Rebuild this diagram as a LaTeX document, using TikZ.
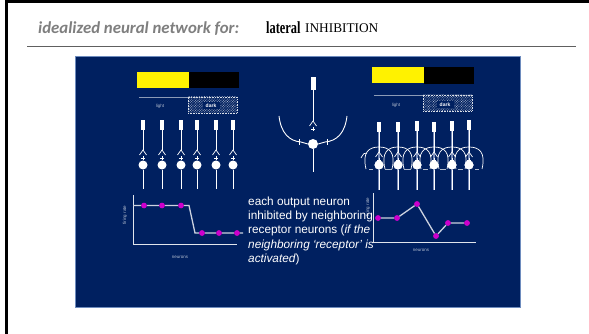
\documentclass[tikz,border=0pt]{standalone}
\usepackage{graphicx}
\usepackage{fontspec}
\setmainfont{Liberation Sans}
\newfontfamily\titlefont{Carlito}
\newfontfamily\serifhead{Liberation Serif}
\usetikzlibrary{patterns.meta}
\definecolor{slideblue}{RGB}{0,32,96}
\definecolor{slideedge}{RGB}{110,140,190}
\definecolor{titlegray}{RGB}{127,127,127}
\definecolor{rulegray}{RGB}{96,96,96}
\definecolor{plotdot}{RGB}{204,0,204}
\definecolor{stripe}{RGB}{120,140,185}

\tikzset{
  wire/.style={draw=white, line width=0.9pt},
  faintwire/.style={draw=stripe, line width=2pt},
  receptor/.style={rectangle, fill=white, minimum width=4.5pt, minimum height=10pt, inner sep=0pt},
  soma/.style={circle, fill=white, minimum size=9pt, inner sep=0pt},
  pdot/.style={circle, fill=plotdot, minimum size=5.5pt, inner sep=0pt},
  axisline/.style={draw=white!88!slideblue, line width=1pt},
  trace/.style={draw=white!80!slideblue, line width=1.3pt},
  tinylabel/.style={font=\fontsize{4.5}{5}\selectfont, text=white!70!slideblue, inner sep=0pt},
  hatchbox/.style={draw=white!85!slideblue, densely dotted, line width=0.6pt,
    pattern={Lines[angle=45,distance=1.8pt,line width=0.6pt]}, pattern color=white!80!slideblue,
    minimum width=49pt, minimum height=16pt, inner sep=0pt},
  darktag/.style={fill=slideblue, text=white, font=\bfseries\fontsize{5}{5}\selectfont, inner sep=0.5pt,
    minimum width=17pt, minimum height=7pt},
  lightbar/.style={draw=white!55!slideblue, line width=1.4pt},
  chev/.pic={
    \draw[white, line width=0.7pt] (-3.5,5) -- (0,0) -- (3.5,5);
    \draw[white, line width=0.6pt] (-1.8,8) -- (1.8,8) (0,6.3) -- (0,9.7);
  },
  bulb/.pic={
    \draw[white, line width=0.7pt] (-13,19) .. controls (-17,2) and (-10,-3) .. (0,-3)
      .. controls (10,-3) and (17,2) .. (13,19);
    \draw[white!70!slideblue, line width=0.6pt] (-10,19) -- (-6,19) (6,19) -- (10,19);
  }
}

\begin{document}
\begin{tikzpicture}[x=1pt,y=-1pt]
\useasboundingbox (0,0) rectangle (589,334);
\fill[white] (0,0) rectangle (589,334);

% page frame and heading
\draw[black, line width=3pt] (6.5,334) -- (6.5,1.5) -- (589,1.5);
\node[anchor=base west, inner sep=0, text=titlegray,
  font=\titlefont\bfseries\itshape\fontsize{16.8}{18}\selectfont] (title) at (38,33.5) {idealized neural network for:};
\node[anchor=base west, inner sep=0] (lat) at (266,33.5)
  {\serifhead\bfseries\fontsize{15.5}{15}\selectfont\scalebox{0.8}[1.1]{lateral}};
\node[anchor=base west, inner sep=0] (inh) at (305,33)
  {\serifhead\fontsize{13.3}{13}\selectfont INHIBITION};
\draw[rulegray, line width=1.3pt] (27,46.5) -- (576,46.5);

% slide panel
\draw[fill=slideblue, draw=slideedge, line width=0.8pt] (75,56.5) rectangle (520,307);

% ---------- left network: no lateral connections ----------
\fill[yellow] (137,72) rectangle (188.5,88);
\fill[black] (189,72) rectangle (239,88);
\draw[lightbar] (139,97.5) -- (188,97.5);
\node[hatchbox] (lhatch) at (212.5,105) {};
\node[darktag] (ldark) at (211,106) {dark};
\node[tinylabel] (llight) at (160,106) {light};

\foreach \i/\x in {1/143,2/162,3/181,4/197,5/216,6/233} {
  \node[receptor] (lr\i) at (\x,125) {};
  \coordinate (lt\i) at (\x,150);
  \node[soma] (ls\i) at (\x,165) {};
  \coordinate (lo\i) at (\x,189);
  \draw[wire] (lr\i.south) -- (lt\i);
  \pic at (lt\i) {chev};
  \draw[wire] (ls\i.south) -- (lo\i);
}

% left response plot
\coordinate (lyTop) at (133,195);
\coordinate (lOrig) at (133,244);
\coordinate (lxEnd) at (237,244);
\draw[axisline] (lyTop) -- (lOrig) -- (lxEnd);
\node[pdot] (ld1) at (144,205.5) {};
\node[pdot] (ld2) at (162,205.5) {};
\node[pdot] (ld3) at (181,205.5) {};
\node[pdot] (ld4) at (202,233) {};
\node[pdot] (ld5) at (219,233) {};
\node[pdot] (ld6) at (237,233) {};
\coordinate (lstart) at (133,205.5);
\coordinate (lknee1) at (189,205.5);
\coordinate (lknee2) at (195,233);
\coordinate (lend) at (243,233);
\draw[trace] (lstart) -- (ld1) -- (ld2) -- (ld3) -- (lknee1) -- (lknee2) -- (ld4) -- (ld5) -- (ld6) -- (lend);
\foreach \i in {1,...,6} { \node[pdot] at (ld\i) {}; }
\node[tinylabel, rotate=90] (lylab) at (125,215) {firing rate};
\node[tinylabel] (lxlab) at (180,257) {neurons};

% ---------- single neuron with two inhibitory inputs ----------
\node[receptor, minimum height=13pt, minimum width=5pt] (cr) at (313,83.5) {};
\coordinate (ct) at (313,121);
\node[soma, minimum size=10pt] (cs) at (313,144) {};
\coordinate (co) at (313,172);
\draw[wire] (cr.south) -- (ct);
\pic at (ct) {chev};
\draw[wire] (cs.south) -- (co);
\coordinate (cinL) at (279,116);
\coordinate (cinR) at (347,116);
\draw[wire] (cinL) .. controls (281,133) and (289,141) .. (301,142) -- (cs.west);
\draw[wire] (cinR) .. controls (345,133) and (337,141) .. (325,142) -- (cs.east);
\draw[white, line width=0.7pt] (299,139) -- (299,145) (327,139) -- (327,145);

% ---------- right network: lateral inhibition ----------
\fill[yellow] (372,67) rectangle (423.5,83);
\fill[black] (424,67) rectangle (474,84);
\draw[lightbar] (374,95.5) -- (423,95.5);
\node[hatchbox] (rhatch) at (447.5,103) {};
\node[darktag] (rdark) at (445,104.5) {dark};
\node[tinylabel] (rlight) at (396,105) {light};

\foreach \i/\x/\top in {1/379/127,2/398/127,3/417/126,4/434/127,5/452/126,6/469/125} {
  \node[receptor] (rr\i) at (\x,\top) {};
  \coordinate (rt\i) at (\x,152);
  \node[soma] (rs\i) at (\x,165) {};
  \coordinate (ro\i) at (\x,190);
  \draw[faintwire] (rr\i.south) -- (ro\i);
  \draw[wire] (rr\i.south) -- (rt\i);
  \pic at (\x,150) {bulb};
  \pic at (rt\i) {chev};
  \draw[wire] (rs\i.south) -- (ro\i);
  \node[soma] at (rs\i) {};
}
\coordinate (rtailL) at (361,158);
\draw[white, line width=0.7pt] (rtailL) .. controls (363,154) and (365,152) .. (367,153);

% right response plot
\coordinate (ryTop) at (373,193);
\coordinate (rOrig) at (373,242);
\coordinate (rxEnd) at (476,242);
\draw[axisline] (ryTop) -- (rOrig) -- (rxEnd);
\node[pdot] (rd1) at (378,218) {};
\node[pdot] (rd2) at (397,218) {};
\node[pdot] (rd3) at (417,204) {};
\node[pdot] (rd4) at (436,236) {};
\node[pdot] (rd5) at (448,223) {};
\node[pdot] (rd6) at (467,223) {};
\draw[trace] (rd1) -- (rd2) -- (rd3) -- (rd4) -- (rd5) -- (rd6);
\foreach \i in {1,...,6} { \node[pdot] at (rd\i) {}; }
\node[tinylabel, rotate=90] (rylab) at (368,207) {firing rate};
\node[tinylabel] (rxlab) at (421,250) {neurons};

% explanatory caption
\node[anchor=north west, align=left, text=white, inner sep=0,
  font=\fontsize{11.8}{14.3}\selectfont] (caption) at (248,196.5)
  {each output neuron\\inhibited by neighboring\\receptor neurons (\textit{if the}\\\textit{neighboring ‘receptor’ is}\\\textit{activated})};
\end{tikzpicture}
\end{document}
